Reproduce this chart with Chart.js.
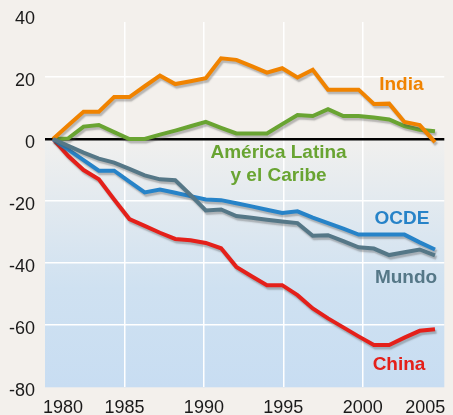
<!DOCTYPE html>
<html>
<head>
<meta charset="utf-8">
<script src="https://cdn.jsdelivr.net/npm/chart.js@4.4.1/dist/chart.umd.min.js"></script>
<style>
  html, body { margin: 0; padding: 0; background: #f3f0ec; }
  #chart { display: block; }
</style>
</head>
<body>
<canvas id="chart" width="453" height="415"></canvas>
<script>
// Variación respecto a 1980 (%)
const years = [1980, 1981, 1982, 1983, 1984, 1985, 1986, 1987, 1988, 1989,
               1990, 1991, 1992, 1993, 1994, 1995, 1996, 1997, 1998, 1999,
               2000, 2001, 2002, 2003, 2004, 2005];

const india = [0, 4.4, 8.8, 8.8, 13.5, 13.5, 17, 20.4, 17.7, 18.6,
               19.6, 26, 25.5, 23.5, 21.4, 22.8, 19.8, 22.3, 15.9, 15.9,
               15.9, 11.3, 11.4, 5.5, 4.5, -1];

const americaLatina = [0, 0.2, 4.0, 4.5, 2.2, 0, 0, 1.4, 2.7, 4.1,
                       5.5, 3.6, 1.8, 1.8, 1.8, 4.8, 7.7, 7.4, 9.6, 7.4,
                       7.4, 6.9, 6.3, 4.2, 3.0, 2.5];

const ocde = [0, -3.4, -6.8, -10.2, -10.2, -13.7, -17.2, -16.3, -17.3, -18.4,
              -19.5, -19.7, -20.7, -21.7, -22.8, -23.8, -23.3, -25.3, -27.1, -28.9,
              -30.8, -30.8, -30.8, -30.8, -33.3, -35.6];

const mundo = [0, -2.2, -4.4, -6.3, -7.6, -9.6, -11.7, -13, -13.3, -18,
               -23, -22.7, -24.8, -25.4, -26, -26.6, -27.1, -31.2, -31, -32.9,
               -34.9, -35.3, -37.4, -36.5, -35.6, -37.5];

const china = [0, -5.5, -10, -13, -19.5, -25.8, -28, -30.2, -32.2, -32.6,
               -33.5, -35.2, -41.2, -44.2, -47.1, -47.1, -50.3, -54.6, -57.8, -60.7,
               -63.6, -66.4, -66.4, -64, -61.8, -61.3];

const yTicks = [-80, -60, -40, -20, 0, 20, 40];
const xTicks = [1980, 1985, 1990, 1995, 2000, 2005];

const FONT = "'Liberation Sans', Arial, Helvetica, sans-serif";
const COLORS = {
    india: '#f08300',
    america: '#69a432',
    ocde: '#2783c8',
    mundo: '#557787',
    china: '#e4201a'
};

// series names placed next to their lines (year, value of the text baseline)
const seriesNames = [
    { lines: ['India'], color: COLORS.india, year: 2002.43, value: 15.8 },
    { lines: ['América Latina', 'y el Caribe'], color: COLORS.america, year: 1994.7, value: -6.1, lineGap: 23 },
    { lines: ['OCDE'], color: COLORS.ocde, year: 2002.47, value: -27.4 },
    { lines: ['Mundo'], color: COLORS.mundo, year: 2002.72, value: -46.5 },
    { lines: ['China'], color: COLORS.china, year: 2002.28, value: -74.3 }
];

function toPoints(values) {
    return years.map((yr, i) => ({ x: yr, y: values[i] }));
}

function makeLine(label, values, color) {
    return {
        label: label,
        data: toPoints(values),
        xAxisID: 'xData',
        borderColor: color,
        borderWidth: 4,
        borderJoinStyle: 'miter',
        pointRadius: 0,
        tension: 0,
        fill: false
    };
}

const plotBackground = {
    id: 'plotBackground',
    beforeDraw(chart) {
        const ctx = chart.ctx;
        const area = chart.chartArea;
        const y = chart.scales.y;
        ctx.save();
        ctx.fillStyle = '#f3f0ec';
        ctx.fillRect(0, 0, chart.width, chart.height);

        const top = y.getPixelForValue(0);
        const grad = ctx.createLinearGradient(0, top, 0, area.bottom);
        grad.addColorStop(0, '#f1f0ee');
        grad.addColorStop(0.6, '#cfe1f1');
        grad.addColorStop(1, '#c8ddf2');
        ctx.fillStyle = grad;
        ctx.fillRect(area.left, top, area.right - area.left, area.bottom - top);
        ctx.restore();
    }
};

const lineShadow = {
    id: 'lineShadow',
    beforeDatasetDraw(chart) {
        const ctx = chart.ctx;
        ctx.save();
        ctx.shadowColor = 'rgba(70, 70, 70, 0.35)';
        ctx.shadowOffsetX = 1.5;
        ctx.shadowOffsetY = 2.5;
        ctx.shadowBlur = 1.5;
    },
    afterDatasetDraw(chart) {
        chart.ctx.restore();
    }
};

const textLabels = {
    id: 'textLabels',
    afterDatasetsDraw(chart) {
        const ctx = chart.ctx;
        const area = chart.chartArea;
        const xs = chart.scales.x;
        const ys = chart.scales.y;
        ctx.save();

        // year labels, the outer ones pulled inside the plot edges
        ctx.font = '18px ' + FONT;
        ctx.fillStyle = '#1a1a1a';
        ctx.textAlign = 'left';
        ctx.textBaseline = 'alphabetic';
        xTicks.forEach(v => {
            const text = String(v);
            const w = ctx.measureText(text).width;
            let left = xs.getPixelForValue(v) - w / 2;
            left = Math.max(left, area.left - 2);
            left = Math.min(left, area.right + 1 - w);
            ctx.fillText(text, left, area.bottom + 25.6);
        });

        // series names
        ctx.font = 'bold 19px ' + FONT;
        ctx.textAlign = 'center';
        seriesNames.forEach(s => {
            const px = xs.getPixelForValue(s.year);
            const py = ys.getPixelForValue(s.value);
            ctx.fillStyle = s.color;
            s.lines.forEach((line, i) => {
                ctx.fillText(line, px, py + i * (s.lineGap || 0));
            });
        });
        ctx.restore();
    }
};

const ctx = document.getElementById('chart');

new Chart(ctx, {
    type: 'line',
    data: {
        datasets: [
            makeLine('Mundo', mundo, COLORS.mundo),
            makeLine('India', india, COLORS.india),
            makeLine('América Latina y el Caribe', americaLatina, COLORS.america),
            makeLine('OCDE', ocde, COLORS.ocde),
            makeLine('China', china, COLORS.china)
        ]
    },
    options: {
        responsive: false,
        animation: false,
        layout: {
            padding: { top: 22, right: 8.7, bottom: 0, left: 0 }
        },
        plugins: {
            legend: { display: false },
            tooltip: { enabled: false }
        },
        scales: {
            xData: {
                type: 'linear',
                display: false,
                min: 1979.476,
                max: 2005.61
            },
            x: {
                type: 'linear',
                position: 'bottom',
                z: -1,
                min: 1980,
                max: 2005.13,
                afterBuildTicks: axis => {
                    axis.ticks = xTicks.map(v => ({ value: v }));
                },
                afterFit: axis => {
                    axis.height = 27.7;
                },
                border: { display: false },
                grid: {
                    drawTicks: false,
                    lineWidth: 1.5,
                    color: c => (c.tick && (c.tick.value === 1980 || c.tick.value === 2005))
                        ? 'rgba(0,0,0,0)' : '#ffffff'
                },
                ticks: { display: false }
            },
            y: {
                type: 'linear',
                min: -80,
                max: 37.7,
                afterBuildTicks: axis => {
                    axis.ticks = yTicks.map(v => ({ value: v }));
                },
                afterFit: axis => {
                    axis.width = 45;
                },
                border: { display: false },
                grid: {
                    drawTicks: false,
                    lineWidth: c => (c.tick && c.tick.value === 0) ? 2.5 : 1.5,
                    color: c => {
                        if (!c.tick) return '#ffffff';
                        if (c.tick.value === 0) return '#000000';
                        if (c.tick.value === -80 || c.tick.value === 40) return 'rgba(0,0,0,0)';
                        return '#ffffff';
                    }
                },
                ticks: {
                    autoSkip: false,
                    padding: 10,
                    labelOffset: 4,
                    color: '#1a1a1a',
                    font: { size: 18, family: FONT }
                }
            }
        }
    },
    plugins: [plotBackground, lineShadow, textLabels]
});
</script>
</body>
</html>
